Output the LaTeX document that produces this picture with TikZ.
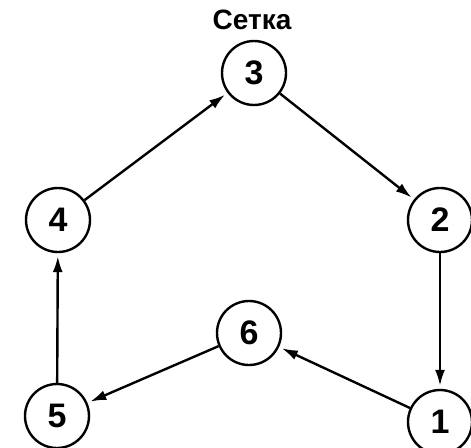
\documentclass[tikz,border=0pt]{standalone}
\usepackage{fontspec}
\setmainfont{Liberation Sans}
\usetikzlibrary{arrows.meta}
\begin{document}
\begin{tikzpicture}[x=1pt,y=-1pt,
  vert/.style={circle,draw,line width=2.4pt,minimum size=64pt,inner sep=0pt,font=\fontsize{34}{36}\selectfont\bfseries},
  edge/.style={line width=2.4pt,-{Latex[length=16pt,width=10pt]},shorten >=3pt}]
\useasboundingbox (0,0) rectangle (471,447);
\node[font=\fontsize{28}{30}\selectfont\bfseries] (title) at (252,20) {Сетка};
\node[vert] (n3) at (254,73) {3};
\node[vert] (n2) at (440,220) {2};
\node[vert] (n4) at (58,220) {4};
\node[vert] (n6) at (249,333) {6};
\node[vert] (n5) at (57,416) {5};
\node[vert] (n1) at (440,422) {1};
\draw[edge] (n4) -- (n3);
\draw[edge] (n3) -- (n2);
\draw[edge] (n2) -- (n1);
\draw[edge] (n1) -- (n6);
\draw[edge] (n6) -- (n5);
\draw[edge] (n5) -- (n4);
\end{tikzpicture}
\end{document}
